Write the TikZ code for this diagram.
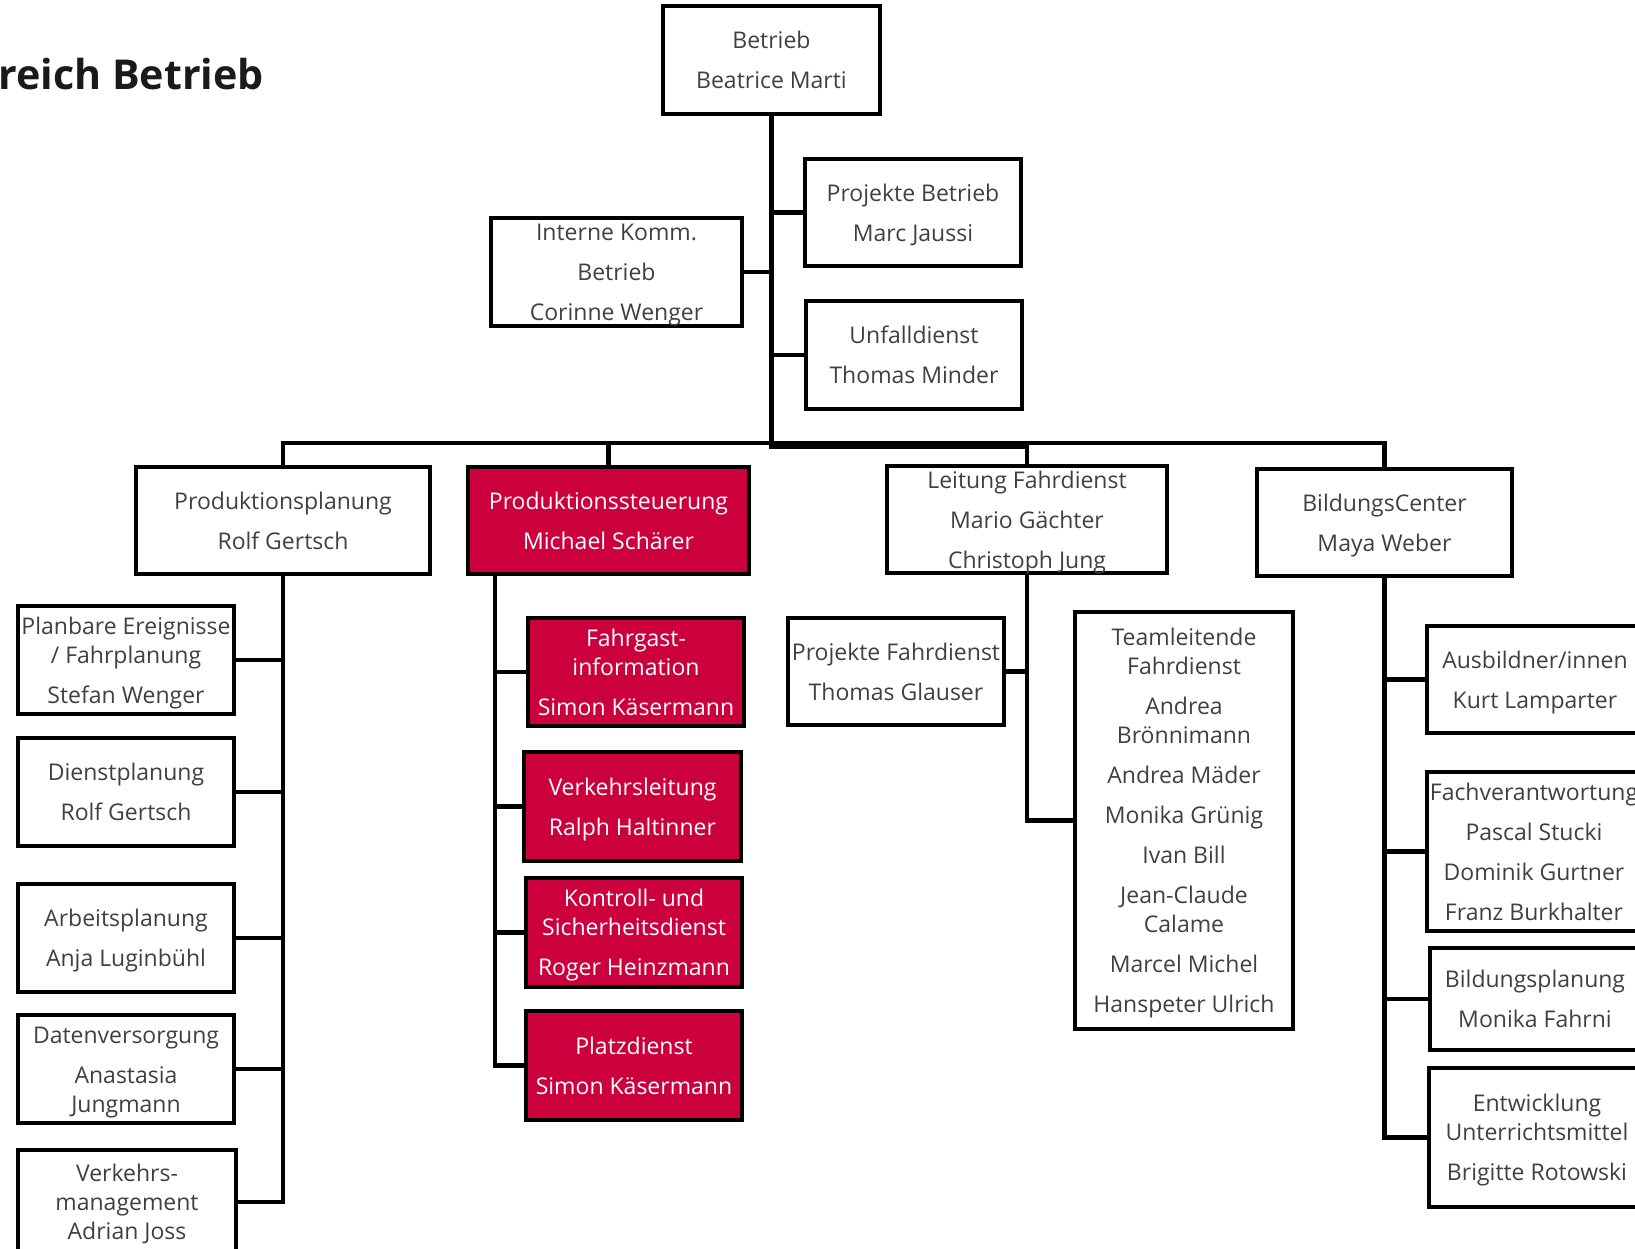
\documentclass[tikz,border=0pt]{standalone}
\usepackage{fontspec}
\setmainfont{Open Sans}
\definecolor{orgred}{RGB}{204,0,61}
\definecolor{orggray}{RGB}{64,64,64}
\tikzset{
    wbox/.style={draw=black, line width=2.4pt, fill=white, inner sep=0pt},
    rbox/.style={draw=black, line width=2.4pt, fill=orgred, inner sep=0pt},
    wboxtxt/.style={align=center, inner sep=0pt, yshift=-1.5pt, text=orggray, font=\fontsize{11.5}{14.5}\selectfont},
    rboxtxt/.style={wboxtxt, text=white},
    line/.style={draw=black, line width=2.4pt},
}
% name, style, x, y, width, height, text
\newcommand{\OrgBox}[7]{
    \node[#2, minimum width={#5*0.5pt}, minimum height={#6*0.5pt}] (#1) at (#3,#4) {};
    \node[#2txt] (#1-t) at (#1) {\strut #7\strut};
}
\newcommand{\pgap}{\\[5.5pt]}

\begin{document}
\begin{tikzpicture}[x=0.5pt, y=-0.5pt]
    \useasboundingbox (0,0) rectangle (1635,1249);
    \node[anchor=base west, inner sep=0pt, text={rgb,255:red,26;green,26;blue,26},
        font=\fontsize{20.6}{25}\selectfont\bfseries] (title) at (-2,89) {reich Betrieb};

    % top level
    \OrgBox{betrieb}{wbox}{771.5}{60}{217}{108}{Betrieb\pgap Beatrice Marti}
    \OrgBox{projb}{wbox}{913}{212.5}{216}{107}{Projekte Betrieb\pgap Marc Jaussi}
    \OrgBox{intern}{wbox}{616.5}{272}{251}{108}{Interne Komm.\pgap Betrieb\pgap Corinne Wenger}
    \OrgBox{unfall}{wbox}{914}{355}{216}{108}{Unfalldienst\pgap Thomas Minder}

    % second level
    \OrgBox{prodplan}{wbox}{283}{520.5}{294}{107}{Produktionsplanung\pgap Rolf Gertsch}
    \OrgBox{prodsteu}{rbox}{608.5}{520.5}{281}{107}{Produktionssteuerung\pgap Michael Schärer}
    \OrgBox{leitung}{wbox}{1027}{519.5}{280}{107}{Leitung Fahrdienst\pgap Mario Gächter\pgap Christoph Jung}
    \OrgBox{bildung}{wbox}{1384.5}{522.5}{255}{107}{BildungsCenter\pgap Maya Weber}

    % Produktionsplanung
    \OrgBox{planbar}{wbox}{126}{660}{216}{108}{Planbare Ereignisse\\/ Fahrplanung\pgap Stefan Wenger}
    \OrgBox{dienst}{wbox}{126}{792}{216}{108}{Dienstplanung\pgap Rolf Gertsch}
    \OrgBox{arbeit}{wbox}{126}{938}{216}{108}{Arbeitsplanung\pgap Anja Luginbühl}
    \OrgBox{daten}{wbox}{126}{1069}{216}{108}{Datenversorgung\pgap Anastasia\\Jungmann}
    \OrgBox{verkm}{wbox}{127}{1202}{218}{104}{Verkehrs-\\management\\Adrian Joss}

    % Produktionssteuerung
    \OrgBox{fahrgast}{rbox}{636}{672}{216}{108}{Fahrgast-\\information\pgap Simon Käsermann}
    \OrgBox{verkl}{rbox}{632.5}{806.5}{217}{109}{Verkehrsleitung\pgap Ralph Haltinner}
    \OrgBox{kontroll}{rbox}{634}{932.5}{216}{109}{Kontroll- und\\Sicherheitsdienst\pgap Roger Heinzmann}
    \OrgBox{platz}{rbox}{634}{1065.5}{216}{109}{Platzdienst\pgap Simon Käsermann}

    % Leitung Fahrdienst
    \OrgBox{projf}{wbox}{896}{671.5}{216}{107}{Projekte Fahrdienst\pgap Thomas Glauser}
    \OrgBox{team}{wbox}{1184}{820.5}{218}{417}{Teamleitende\\Fahrdienst\pgap Andrea\\Brönnimann\pgap Andrea Mäder\pgap Monika Grünig\pgap Ivan Bill\pgap Jean-Claude\\Calame\pgap Marcel Michel\pgap Hanspeter Ulrich}

    % BildungsCenter
    \OrgBox{ausb}{wbox}{1535}{679.5}{216}{107}{Ausbildner/innen\pgap Kurt Lamparter}
    \OrgBox{fach}{wbox}{1534}{851.5}{214}{159}{Fachverantwortung\pgap Pascal Stucki\pgap Dominik Gurtner\pgap Franz Burkhalter}
    \OrgBox{bildpl}{wbox}{1535}{999}{210}{102}{Bildungsplanung\pgap Monika Fahrni}
    \OrgBox{entw}{wbox}{1537}{1137.5}{216}{139}{Entwicklung\\Unterrichtsmittel\pgap Brigitte Rotowski}

    % connectors
    \coordinate (bus) at (0,443);
    \coordinate (bus2) at (0,447);
    \coordinate (psT) at (495,574);
    \draw[line] (betrieb.south) |- (bus2 -| leitung.north);
    \draw[line] (projb.west) -- (projb.west -| betrieb.south);
    \draw[line] (intern.east) -- (intern.east -| betrieb.south);
    \draw[line] (unfall.west) -- (unfall.west -| betrieb.south);
    \draw[line] (prodplan.north) |- (bus -| bildung.north) -- (bildung.north);
    \draw[line] (prodsteu.north) -- (prodsteu.north |- bus);
    \draw[line] (leitung.north) -- (leitung.north |- bus);

    \draw[line] (prodplan.south) |- (verkm.east);
    \draw[line] (planbar.east) -- (planbar.east -| prodplan.south);
    \draw[line] (dienst.east) -- (dienst.east -| prodplan.south);
    \draw[line] (arbeit.east) -- (arbeit.east -| prodplan.south);
    \draw[line] (daten.east) -- (daten.east -| prodplan.south);

    \draw[line] (psT) |- (platz.west);
    \draw[line] (fahrgast.west) -- (fahrgast.west -| psT);
    \draw[line] (verkl.west) -- (verkl.west -| psT);
    \draw[line] (kontroll.west) -- (kontroll.west -| psT);

    \draw[line] (leitung.south) |- (team.west);
    \draw[line] (projf.east) -- (projf.east -| leitung.south);

    \draw[line] (bildung.south) |- (entw.west);
    \draw[line] (ausb.west) -- (ausb.west -| bildung.south);
    \draw[line] (fach.west) -- (fach.west -| bildung.south);
    \draw[line] (bildpl.west) -- (bildpl.west -| bildung.south);
\end{tikzpicture}
\end{document}
